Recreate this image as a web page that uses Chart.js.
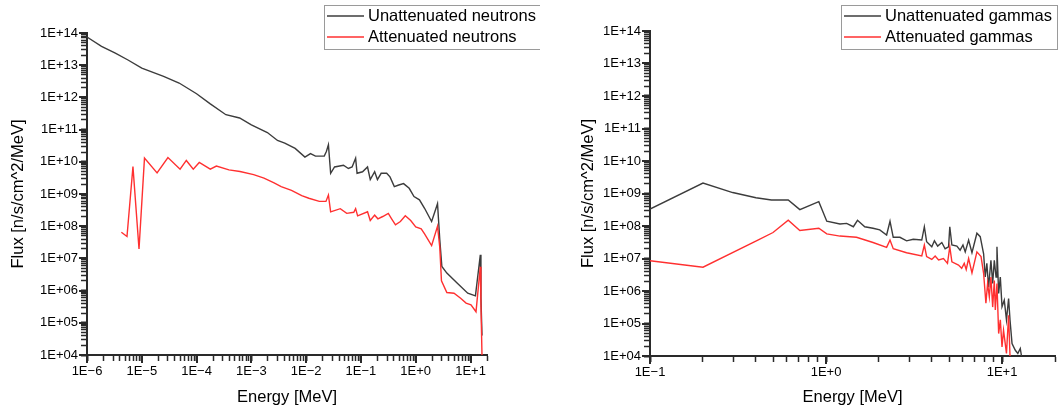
<!DOCTYPE html>
<html>
<head>
<meta charset="utf-8">
<script src="https://cdn.jsdelivr.net/npm/chart.js@4.4.1/dist/chart.umd.min.js"></script>
<style>
  html, body { margin: 0; padding: 0; background: #fff; }
  #wrap { position: relative; width: 1058px; height: 411px; overflow: hidden; }
  canvas { position: absolute; top: 0; }
  #neutronChart { left: 0; }
  #gammaChart { left: 540px; }
</style>
</head>
<body>
<div id="wrap">
  <canvas id="neutronChart" width="540" height="411"></canvas>
  <canvas id="gammaChart" width="518" height="411"></canvas>
</div>
<script>
// energies in MeV, flux in n/s/cm^2/MeV
const neutronEnergyFull = [1e-6, 1.84e-6, 3.29e-6, 5.6e-6, 1e-5, 2.5e-5, 4.8e-5, 1e-4, 1.78e-4, 3.43e-4,
  6.1e-4, 1e-3, 1.96e-3, 3.0e-3, 4.07e-3, 6.3e-3, 9.5e-3, 1.2e-2, 1.48e-2, 2.14e-2,
  2.34e-2, 2.55e-2, 2.8e-2, 3.3e-2, 4.8e-2, 5.9e-2, 6.9e-2, 8.0e-2, 8.5e-2, 0.107,
  0.132, 0.148, 0.178, 0.2, 0.234, 0.295, 0.339, 0.407, 0.49, 0.60,
  0.76, 0.93, 1.17, 1.45, 1.95, 2.5, 2.75, 3.0, 3.7, 5.75,
  8.9, 12.3, 15.1, 15.5, 16.2];
const neutronFluxFull = [7.5e13, 3.85e13, 2.39e13, 1.45e13, 8.1e12, 4.5e12, 2.8e12, 1.3e12, 6.3e11, 2.9e11,
  2.3e11, 1.4e11, 8.1e10, 4.6e10, 3.8e10, 2.6e10, 1.4e10, 1.8e10, 1.5e10, 1.5e10,
  2.1e10, 3.4e10, 4.4e9, 6.9e9, 7.8e9, 6.2e9, 6.9e9, 1.3e10, 4.4e9, 4.9e9,
  6.9e9, 2.8e9, 4.9e9, 2.8e9, 4.4e9, 4.4e9, 3.4e9, 1.7e9, 1.9e9, 2.1e9,
  1.5e9, 8.3e8, 6.6e8, 3.6e8, 1.4e8, 5.0e8, 3.8e7, 5.6e6, 3.5e6, 1.7e6,
  8.3e5, 6.9e5, 1.3e7, 6.3e5, 4e4];

const neutronEnergyAtt = [4.24e-6, 5.37e-6, 6.9e-6, 8.9e-6, 1.12e-5, 1.9e-5, 3.0e-5, 5.0e-5, 6.5e-5, 8.7e-5,
  1.12e-4, 1.78e-4, 2.3e-4, 3.9e-4, 6.2e-4, 1.1e-3, 1.7e-3, 2.6e-3, 3.5e-3, 5.4e-3,
  8.3e-3, 1.12e-2, 1.74e-2, 2.3e-2, 2.55e-2, 2.8e-2, 4.2e-2, 5.5e-2, 7.4e-2, 8.0e-2,
  8.7e-2, 0.132, 0.148, 0.178, 0.204, 0.25, 0.316, 0.363, 0.427, 0.525,
  0.645, 0.81, 1.0, 1.26, 1.45, 1.95, 2.5, 2.75, 2.95, 3.7,
  5.0, 6.6, 8.3, 10.2, 12.6, 15.1, 15.5, 16.2];
const neutronFluxAtt = [6.5e7, 4.8e7, 7.1e9, 1.95e7, 1.3e10, 4.5e9, 1.35e10, 5.9e9, 1.1e10, 5.9e9,
  9.5e9, 5.9e9, 7.4e9, 5.6e9, 5.0e9, 4.0e9, 3.1e9, 2.2e9, 1.7e9, 1.3e9,
  8.9e8, 7.4e8, 5.9e8, 5.9e8, 9.3e8, 2.8e8, 3.5e8, 2.5e8, 2.7e8, 3.5e8,
  2.1e8, 2.8e8, 1.5e8, 2.2e8, 1.7e8, 2.0e8, 2.5e8, 1.7e8, 1.1e8, 1.4e8,
  2.1e8, 1.5e8, 9.5e7, 8.3e7, 5.8e7, 2.5e7, 1.0e8, 2.2e7, 2.0e6, 8.7e5,
  8.3e5, 5.8e5, 4.1e5, 3.6e5, 2.2e5, 5.5e6, 4e5, 1e4];

const gammaEnergyFull = [0.1, 0.2, 0.295, 0.40, 0.49, 0.61, 0.71, 0.91, 1.01, 1.2,
  1.31, 1.43, 1.51, 1.66, 1.85, 2.02, 2.21, 2.31, 2.41, 2.63,
  2.87, 3.13, 3.5, 3.62, 3.73, 3.99, 4.13, 4.31, 4.55, 4.75,
  4.97, 5.05, 5.19, 5.54, 5.78, 6.0, 6.18, 6.46, 6.75, 7.2,
  7.52, 7.86, 8.03, 8.2, 8.39, 8.65, 8.85, 9.04, 9.25, 9.36,
  9.57, 9.78, 10.0, 10.3, 10.6, 10.9, 11.1, 11.4, 11.9, 12.3,
  12.7, 12.9];
const gammaFluxFull = [3.3e8, 2.1e9, 1.07e9, 7.4e8, 6.3e8, 6.3e8, 3.2e8, 5.6e8, 1.4e8, 1.15e8,
  1.2e8, 9.5e7, 1.5e8, 9.5e7, 8.5e7, 7.6e7, 5.3e7, 1.4e8, 4.5e7, 4.5e7,
  3.5e7, 3.9e7, 3.7e7, 9.5e7, 3.3e7, 2.3e7, 3.5e7, 2.4e7, 3.1e7, 2.0e7,
  2.3e7, 9.5e7, 2.6e7, 2.4e7, 1.8e7, 2.6e7, 1.6e7, 3.7e7, 1.5e7, 6.0e7,
  4.7e7, 1.4e7, 2.7e6, 7.1e6, 1.3e6, 8.8e6, 1.7e6, 8.8e6, 2.7e6, 2.3e7,
  8.4e5, 2.7e6, 3.3e5, 5.2e5, 1.3e5, 5.9e5, 1.3e5, 2.4e4, 1.5e4, 1.2e4,
  1.7e4, 1.0e4];

const gammaEnergyAtt = [0.1, 0.2, 0.41, 0.5, 0.61, 0.71, 0.91, 1.01, 1.2, 1.49,
  1.85, 2.21, 2.31, 2.41, 2.87, 3.5, 3.62, 3.73, 3.99, 4.17,
  4.36, 4.65, 4.9, 5.05, 5.19, 5.66, 5.9, 6.1, 6.26, 6.46,
  6.75, 7.2, 7.6, 7.86, 8.1, 8.28, 8.47, 8.65, 8.85, 9.04,
  9.16, 9.36, 9.57, 9.78, 10.0, 10.2, 10.6, 10.9, 11.1];
const gammaFluxAtt = [8.5e6, 5.4e6, 3.7e7, 6.3e7, 1.5e8, 7.3e7, 8.5e7, 5.7e7, 4.9e7, 4.5e7,
  3.1e7, 2.2e7, 3.7e7, 2.0e7, 1.5e7, 1.2e7, 2.6e7, 1.15e7, 9.4e6, 1.2e7,
  9.0e6, 1.0e7, 7.1e6, 2.3e7, 7.9e6, 6.3e6, 5.0e6, 7.1e6, 4.6e6, 1.0e7,
  3.6e6, 1.6e7, 1.15e7, 3.5e6, 4.2e5, 1.7e6, 6.6e5, 2.7e6, 3.2e5, 2.1e6,
  2.6e5, 1.7e6, 4.9e4, 1.3e5, 1.9e4, 6.2e4, 1.2e4, 1.8e5, 1.0e4];

// decade exponents that carry a label
const fluxDecades = [4, 5, 6, 7, 8, 9, 10, 11, 12, 13, 14];
const neutronEnergyDecades = [-6, -5, -4, -3, -2, -1, 0, 1];
const gammaEnergyDecades = [-1, 0, 1];

const FONT = '"Liberation Sans", Arial, sans-serif';
const AXIS = '#2a2a2a';
const BLACK_LINE = '#3c3c3c';
const RED_LINE = '#ff3030';

Chart.defaults.font.family = FONT;
Chart.defaults.color = '#000';

function expLabel(e, digits) {
  return '1E' + (e < 0 ? '\u2212' : '+') + String(Math.abs(e)).padStart(digits, '0');
}

// one tick per 1..9 x 10^d between min and max; only 1 x 10^d is major (labelled)
function logTicks(decades, min, max) {
  const ticks = [];
  for (let d = decades[0] - 1; d <= decades[decades.length - 1]; d++) {
    for (let k = 1; k <= 9; k++) {
      const v = Number((k * Math.pow(10, d)).toPrecision(3));
      if (v < min * 0.999 || v > max * 1.001) continue;
      ticks.push({ value: v, major: k === 1, label: k === 1 ? d : null });
    }
  }
  return ticks;
}

function toPoints(xs, ys) {
  return xs.map((x, i) => ({ x: x, y: ys[i] }));
}

// framed legend in the top right corner
function drawBoxLegend(chart, box) {
  const ctx = chart.ctx;
  ctx.save();
  ctx.strokeStyle = '#9a9a9a';
  ctx.lineWidth = 1;
  ctx.strokeRect(box.left + 0.5, box.top + 0.5, box.width, box.height);
  ctx.font = '16.5px ' + FONT;
  ctx.textBaseline = 'middle';
  ctx.fillStyle = '#000';
  chart.data.datasets.forEach((ds, i) => {
    const y = box.top + 11 + i * 21;
    ctx.strokeStyle = ds.borderColor;
    ctx.lineWidth = 1.6;
    ctx.beginPath();
    ctx.moveTo(box.left + 3, y);
    ctx.lineTo(box.left + 40, y);
    ctx.stroke();
    ctx.fillText(ds.label, box.left + 44, y + 0.5);
  });
  ctx.restore();
}

// majors stick out a bit further than the minor ticks
function drawMajorExtensions(chart) {
  const ctx = chart.ctx;
  const area = chart.chartArea;
  ctx.save();
  ctx.fillStyle = AXIS;
  chart.scales.x.ticks.filter(t => t.major).forEach(t => {
    const p = Math.round(chart.scales.x.getPixelForValue(t.value));
    ctx.fillRect(p - 1, area.bottom, 2, 8);
  });
  chart.scales.y.ticks.filter(t => t.major).forEach(t => {
    const p = Math.round(chart.scales.y.getPixelForValue(t.value));
    ctx.fillRect(area.left - 8, p - 1, 8, 2);
  });
  ctx.restore();
}

function makeChart(canvasId, cfg) {
  const ctx = document.getElementById(canvasId).getContext('2d');
  const tickStyle = () => ({
    drawOnChartArea: false, drawTicks: true, tickLength: 6,
    tickColor: AXIS,
    tickWidth: c => (c.tick && c.tick.major ? 2 : 1.5)
  });
  return new Chart(ctx, {
    type: 'line',
    data: {
      datasets: [
        { label: cfg.fullLabel, data: toPoints(cfg.energyFull, cfg.fluxFull), borderColor: BLACK_LINE, borderWidth: 1.4, order: 1 },
        { label: cfg.attLabel, data: toPoints(cfg.energyAtt, cfg.fluxAtt), borderColor: RED_LINE, borderWidth: 1.4, order: 0 }
      ]
    },
    options: {
      responsive: false,
      animation: false,
      elements: { point: { radius: 0 }, line: { tension: 0 } },
      layout: { padding: cfg.padding },
      plugins: {
        legend: { display: false },
        tooltip: { enabled: false }
      },
      scales: {
        x: {
          type: 'logarithmic',
          min: cfg.xMin, max: 20,
          afterBuildTicks: s => { s.ticks = logTicks(cfg.xDecades, cfg.xMin, 20); },
          afterFit: s => { s.height = cfg.xHeight; },
          border: { display: true, color: AXIS, width: 2 },
          grid: tickStyle(),
          ticks: {
            autoSkip: false, maxRotation: 0, padding: 3, font: { size: 13 },
            callback: (v, i, ts) => (ts[i].label === null ? '' : expLabel(ts[i].label, 1))
          },
          title: { display: true, text: 'Energy [MeV]', font: { size: 16.5 }, padding: { top: 0, bottom: 4 } }
        },
        y: {
          type: 'logarithmic',
          min: 1e4, max: 1e14,
          afterBuildTicks: s => { s.ticks = logTicks(fluxDecades, 1e4, 1e14); },
          afterFit: s => { s.width = cfg.yWidth; },
          border: { display: true, color: AXIS, width: 2 },
          grid: tickStyle(),
          ticks: {
            autoSkip: false, padding: 3, font: { size: 13 },
            callback: (v, i, ts) => (ts[i].label === null ? '' : expLabel(ts[i].label, 2))
          },
          title: { display: true, text: 'Flux [n/s/cm^2/MeV]', font: { size: 16.5 }, padding: { top: cfg.yTitlePad, bottom: 0 } }
        }
      }
    },
    plugins: [{
      id: 'axisExtras',
      afterDraw(chart) {
        drawMajorExtensions(chart);
        drawBoxLegend(chart, cfg.legendBox);
      }
    }]
  });
}

makeChart('neutronChart', {
  fullLabel: 'Unattenuated neutrons', attLabel: 'Attenuated neutrons',
  energyFull: neutronEnergyFull, fluxFull: neutronFluxFull,
  energyAtt: neutronEnergyAtt, fluxAtt: neutronFluxAtt,
  xMin: 1e-6, xDecades: neutronEnergyDecades,
  padding: { left: 0, top: 33, right: 53, bottom: 0 },
  xHeight: 56, yWidth: 87, yTitlePad: 9,
  legendBox: { left: 324, top: 5, width: 216, height: 44 }
});

makeChart('gammaChart', {
  fullLabel: 'Unattenuated gammas', attLabel: 'Attenuated gammas',
  energyFull: gammaEnergyFull, fluxFull: gammaFluxFull,
  energyAtt: gammaEnergyAtt, fluxAtt: gammaFluxAtt,
  xMin: 1e-1, xDecades: gammaEnergyDecades,
  padding: { left: 0, top: 31, right: 3, bottom: 0 },
  xHeight: 55, yWidth: 110, yTitlePad: 39,
  legendBox: { left: 301, top: 5, width: 216, height: 44 }
});
</script>
</body>
</html>
